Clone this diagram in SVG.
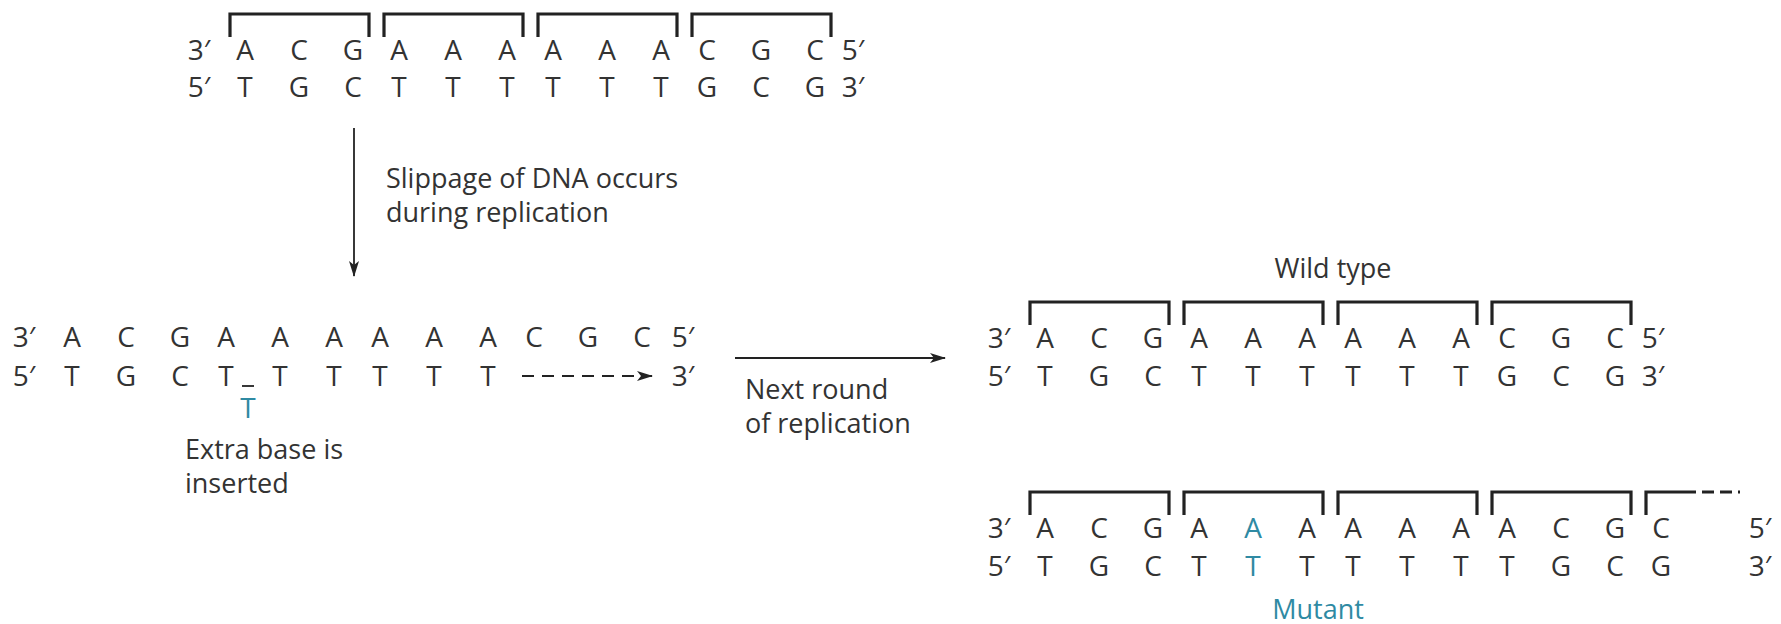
<svg xmlns="http://www.w3.org/2000/svg" width="1781" height="624" viewBox="0 0 1781 624">
<defs>
<style>
text{font-family:"Open Sans","Noto Sans","DejaVu Sans",sans-serif;fill:#333;}
.b{font-size:28px;text-anchor:middle;}
.l{font-size:27px;}
.c{text-anchor:middle;}
.blue{fill:#2f8aa3;}
.br{fill:none;stroke:#222;stroke-width:3.2;}
.ln{stroke:#222;stroke-width:1.8;fill:none;}
</style>
<marker id="ah" viewBox="0 0 16 10" refX="15" refY="5" markerWidth="16" markerHeight="10" markerUnits="userSpaceOnUse" orient="auto">
<path d="M0,0 L16,5 L0,10 L4,5 Z" fill="#222"/>
</marker>
</defs>
<rect width="1781" height="624" fill="#fff"/>

<g id="top-duplex">
<path class="br" d="M230,37 V14 H369 V37"/>
<path class="br" d="M384,37 V14 H523 V37"/>
<path class="br" d="M538,37 V14 H677 V37"/>
<path class="br" d="M692,37 V14 H831 V37"/>
<text class="b" x="199" y="60">3′</text>
<text class="b" x="245" y="60">A</text><text class="b" x="299" y="60">C</text><text class="b" x="353" y="60">G</text>
<text class="b" x="399" y="60">A</text><text class="b" x="453" y="60">A</text><text class="b" x="507" y="60">A</text>
<text class="b" x="553" y="60">A</text><text class="b" x="607" y="60">A</text><text class="b" x="661" y="60">A</text>
<text class="b" x="707" y="60">C</text><text class="b" x="761" y="60">G</text><text class="b" x="815" y="60">C</text>
<text class="b" x="853" y="60">5′</text>
<text class="b" x="199" y="97">5′</text>
<text class="b" x="245" y="97">T</text><text class="b" x="299" y="97">G</text><text class="b" x="353" y="97">C</text>
<text class="b" x="399" y="97">T</text><text class="b" x="453" y="97">T</text><text class="b" x="507" y="97">T</text>
<text class="b" x="553" y="97">T</text><text class="b" x="607" y="97">T</text><text class="b" x="661" y="97">T</text>
<text class="b" x="707" y="97">G</text><text class="b" x="761" y="97">C</text><text class="b" x="815" y="97">G</text>
<text class="b" x="853" y="97">3′</text>
</g>

<g id="slippage-label">
<text class="l" x="386" y="188">Slippage of DNA occurs</text>
<text class="l" x="386" y="222">during replication</text>
</g>

<g id="slipped-duplex">
<text class="b" x="24" y="347">3′</text>
<text class="b" x="72" y="347">A</text><text class="b" x="126" y="347">C</text><text class="b" x="180" y="347">G</text>
<text class="b" x="226" y="347">A</text><text class="b" x="280" y="347">A</text><text class="b" x="334" y="347">A</text>
<text class="b" x="380" y="347">A</text><text class="b" x="434" y="347">A</text><text class="b" x="488" y="347">A</text>
<text class="b" x="534" y="347">C</text><text class="b" x="588" y="347">G</text><text class="b" x="642" y="347">C</text>
<text class="b" x="683" y="347">5′</text>
<text class="b" x="24" y="386">5′</text>
<text class="b" x="72" y="386">T</text><text class="b" x="126" y="386">G</text><text class="b" x="180" y="386">C</text>
<text class="b" x="226" y="386">T</text><text class="b" x="280" y="386">T</text><text class="b" x="334" y="386">T</text>
<text class="b" x="380" y="386">T</text><text class="b" x="434" y="386">T</text><text class="b" x="488" y="386">T</text>
<line class="ln" x1="242" y1="386" x2="254" y2="386"/>
<line class="ln" x1="522" y1="376" x2="652" y2="376" stroke-dasharray="12 8" marker-end="url(#ah)"/>
<text class="b" x="683" y="386">3′</text>
<text class="b blue" x="248" y="418">T</text>
</g>

<g id="extra-base-label">
<text class="l" x="185" y="459">Extra base is</text>
<text class="l" x="185" y="493">inserted</text>
</g>

<g id="next-round-label">
<text class="l" x="745" y="399">Next round</text>
<text class="l" x="745" y="433">of replication</text>
</g>

<g id="wild-type">
<text class="l c" x="1333" y="278">Wild type</text>
<path class="br" d="M1030,325 V302 H1169 V325"/>
<path class="br" d="M1184,325 V302 H1323 V325"/>
<path class="br" d="M1338,325 V302 H1477 V325"/>
<path class="br" d="M1492,325 V302 H1631 V325"/>
<text class="b" x="999" y="348">3′</text>
<text class="b" x="1045" y="348">A</text><text class="b" x="1099" y="348">C</text><text class="b" x="1153" y="348">G</text>
<text class="b" x="1199" y="348">A</text><text class="b" x="1253" y="348">A</text><text class="b" x="1307" y="348">A</text>
<text class="b" x="1353" y="348">A</text><text class="b" x="1407" y="348">A</text><text class="b" x="1461" y="348">A</text>
<text class="b" x="1507" y="348">C</text><text class="b" x="1561" y="348">G</text><text class="b" x="1615" y="348">C</text>
<text class="b" x="1653" y="348">5′</text>
<text class="b" x="999" y="386">5′</text>
<text class="b" x="1045" y="386">T</text><text class="b" x="1099" y="386">G</text><text class="b" x="1153" y="386">C</text>
<text class="b" x="1199" y="386">T</text><text class="b" x="1253" y="386">T</text><text class="b" x="1307" y="386">T</text>
<text class="b" x="1353" y="386">T</text><text class="b" x="1407" y="386">T</text><text class="b" x="1461" y="386">T</text>
<text class="b" x="1507" y="386">G</text><text class="b" x="1561" y="386">C</text><text class="b" x="1615" y="386">G</text>
<text class="b" x="1653" y="386">3′</text>
</g>

<g id="mutant">
<path class="br" d="M1030,515 V492 H1169 V515"/>
<path class="br" d="M1184,515 V492 H1323 V515"/>
<path class="br" d="M1338,515 V492 H1477 V515"/>
<path class="br" d="M1492,515 V492 H1631 V515"/>
<path class="br" d="M1646,515 V492 H1684"/>
<path class="br" d="M1684,492 H1740" stroke-dasharray="12 6"/>
<text class="b" x="999" y="538">3′</text>
<text class="b" x="1045" y="538">A</text><text class="b" x="1099" y="538">C</text><text class="b" x="1153" y="538">G</text>
<text class="b" x="1199" y="538">A</text><text class="b blue" x="1253" y="538">A</text><text class="b" x="1307" y="538">A</text>
<text class="b" x="1353" y="538">A</text><text class="b" x="1407" y="538">A</text><text class="b" x="1461" y="538">A</text>
<text class="b" x="1507" y="538">A</text><text class="b" x="1561" y="538">C</text><text class="b" x="1615" y="538">G</text>
<text class="b" x="1661" y="538">C</text>
<text class="b" x="1760" y="538">5′</text>
<text class="b" x="999" y="576">5′</text>
<text class="b" x="1045" y="576">T</text><text class="b" x="1099" y="576">G</text><text class="b" x="1153" y="576">C</text>
<text class="b" x="1199" y="576">T</text><text class="b blue" x="1253" y="576">T</text><text class="b" x="1307" y="576">T</text>
<text class="b" x="1353" y="576">T</text><text class="b" x="1407" y="576">T</text><text class="b" x="1461" y="576">T</text>
<text class="b" x="1507" y="576">T</text><text class="b" x="1561" y="576">G</text><text class="b" x="1615" y="576">C</text>
<text class="b" x="1661" y="576">G</text>
<text class="b" x="1760" y="576">3′</text>
<text class="l c blue" x="1318" y="619">Mutant</text>
</g>

<g id="connectors">
<line class="ln" x1="354" y1="128" x2="354" y2="276" marker-end="url(#ah)"/>
<line class="ln" x1="735" y1="358" x2="945" y2="358" marker-end="url(#ah)"/>
</g>
</svg>
